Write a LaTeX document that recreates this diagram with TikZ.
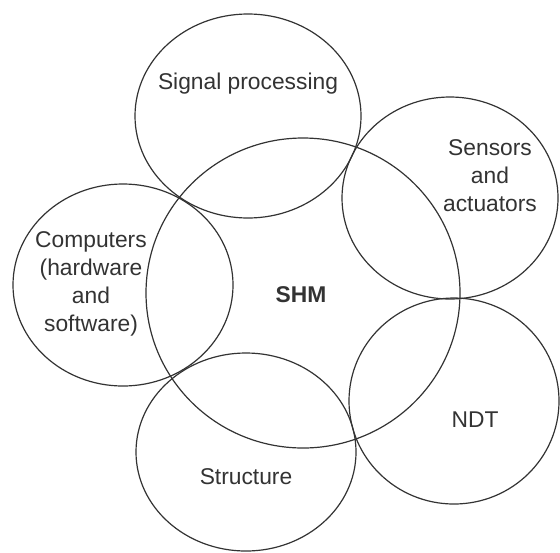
\documentclass[tikz,border=0pt]{standalone}
\usepackage{fontspec}
\setmainfont{Liberation Sans}
\begin{document}
\begin{tikzpicture}[x=0.5pt,y=-0.5pt,
  ring/.style={draw=black!80, line width=0.6pt},
  lbl/.style={align=center, font=\fontsize{11.4}{14}\selectfont, text=black!80, inner sep=0pt}]
\useasboundingbox (0,0) rectangle (560,552);
% overlapping fields
\draw[ring] (303,293) ellipse [x radius=157, y radius=155];
\draw[ring] (248,116) ellipse [x radius=113, y radius=102];
\draw[ring] (450,198) ellipse [x radius=108, y radius=101];
\draw[ring] (123,285) ellipse [x radius=110, y radius=101];
\draw[ring] (454,401) ellipse [x radius=105, y radius=103];
\draw[ring] (246,452) ellipse [x radius=110, y radius=99];
% labels
\node[lbl] (sig) at (248,84) {Signal processing};
\node[lbl] (sens) at (490,176) {Sensors\\and\\actuators};
\node[lbl] (comp) at (91,284) {Computers\\(hardware\\and\\software)};
\node[lbl, font=\fontsize{11.4}{14}\selectfont\bfseries] (shm) at (301,295) {SHM};
\node[lbl] (ndt) at (475,420) {NDT};
\node[lbl] (str) at (246,477) {Structure};
\end{tikzpicture}
\end{document}
